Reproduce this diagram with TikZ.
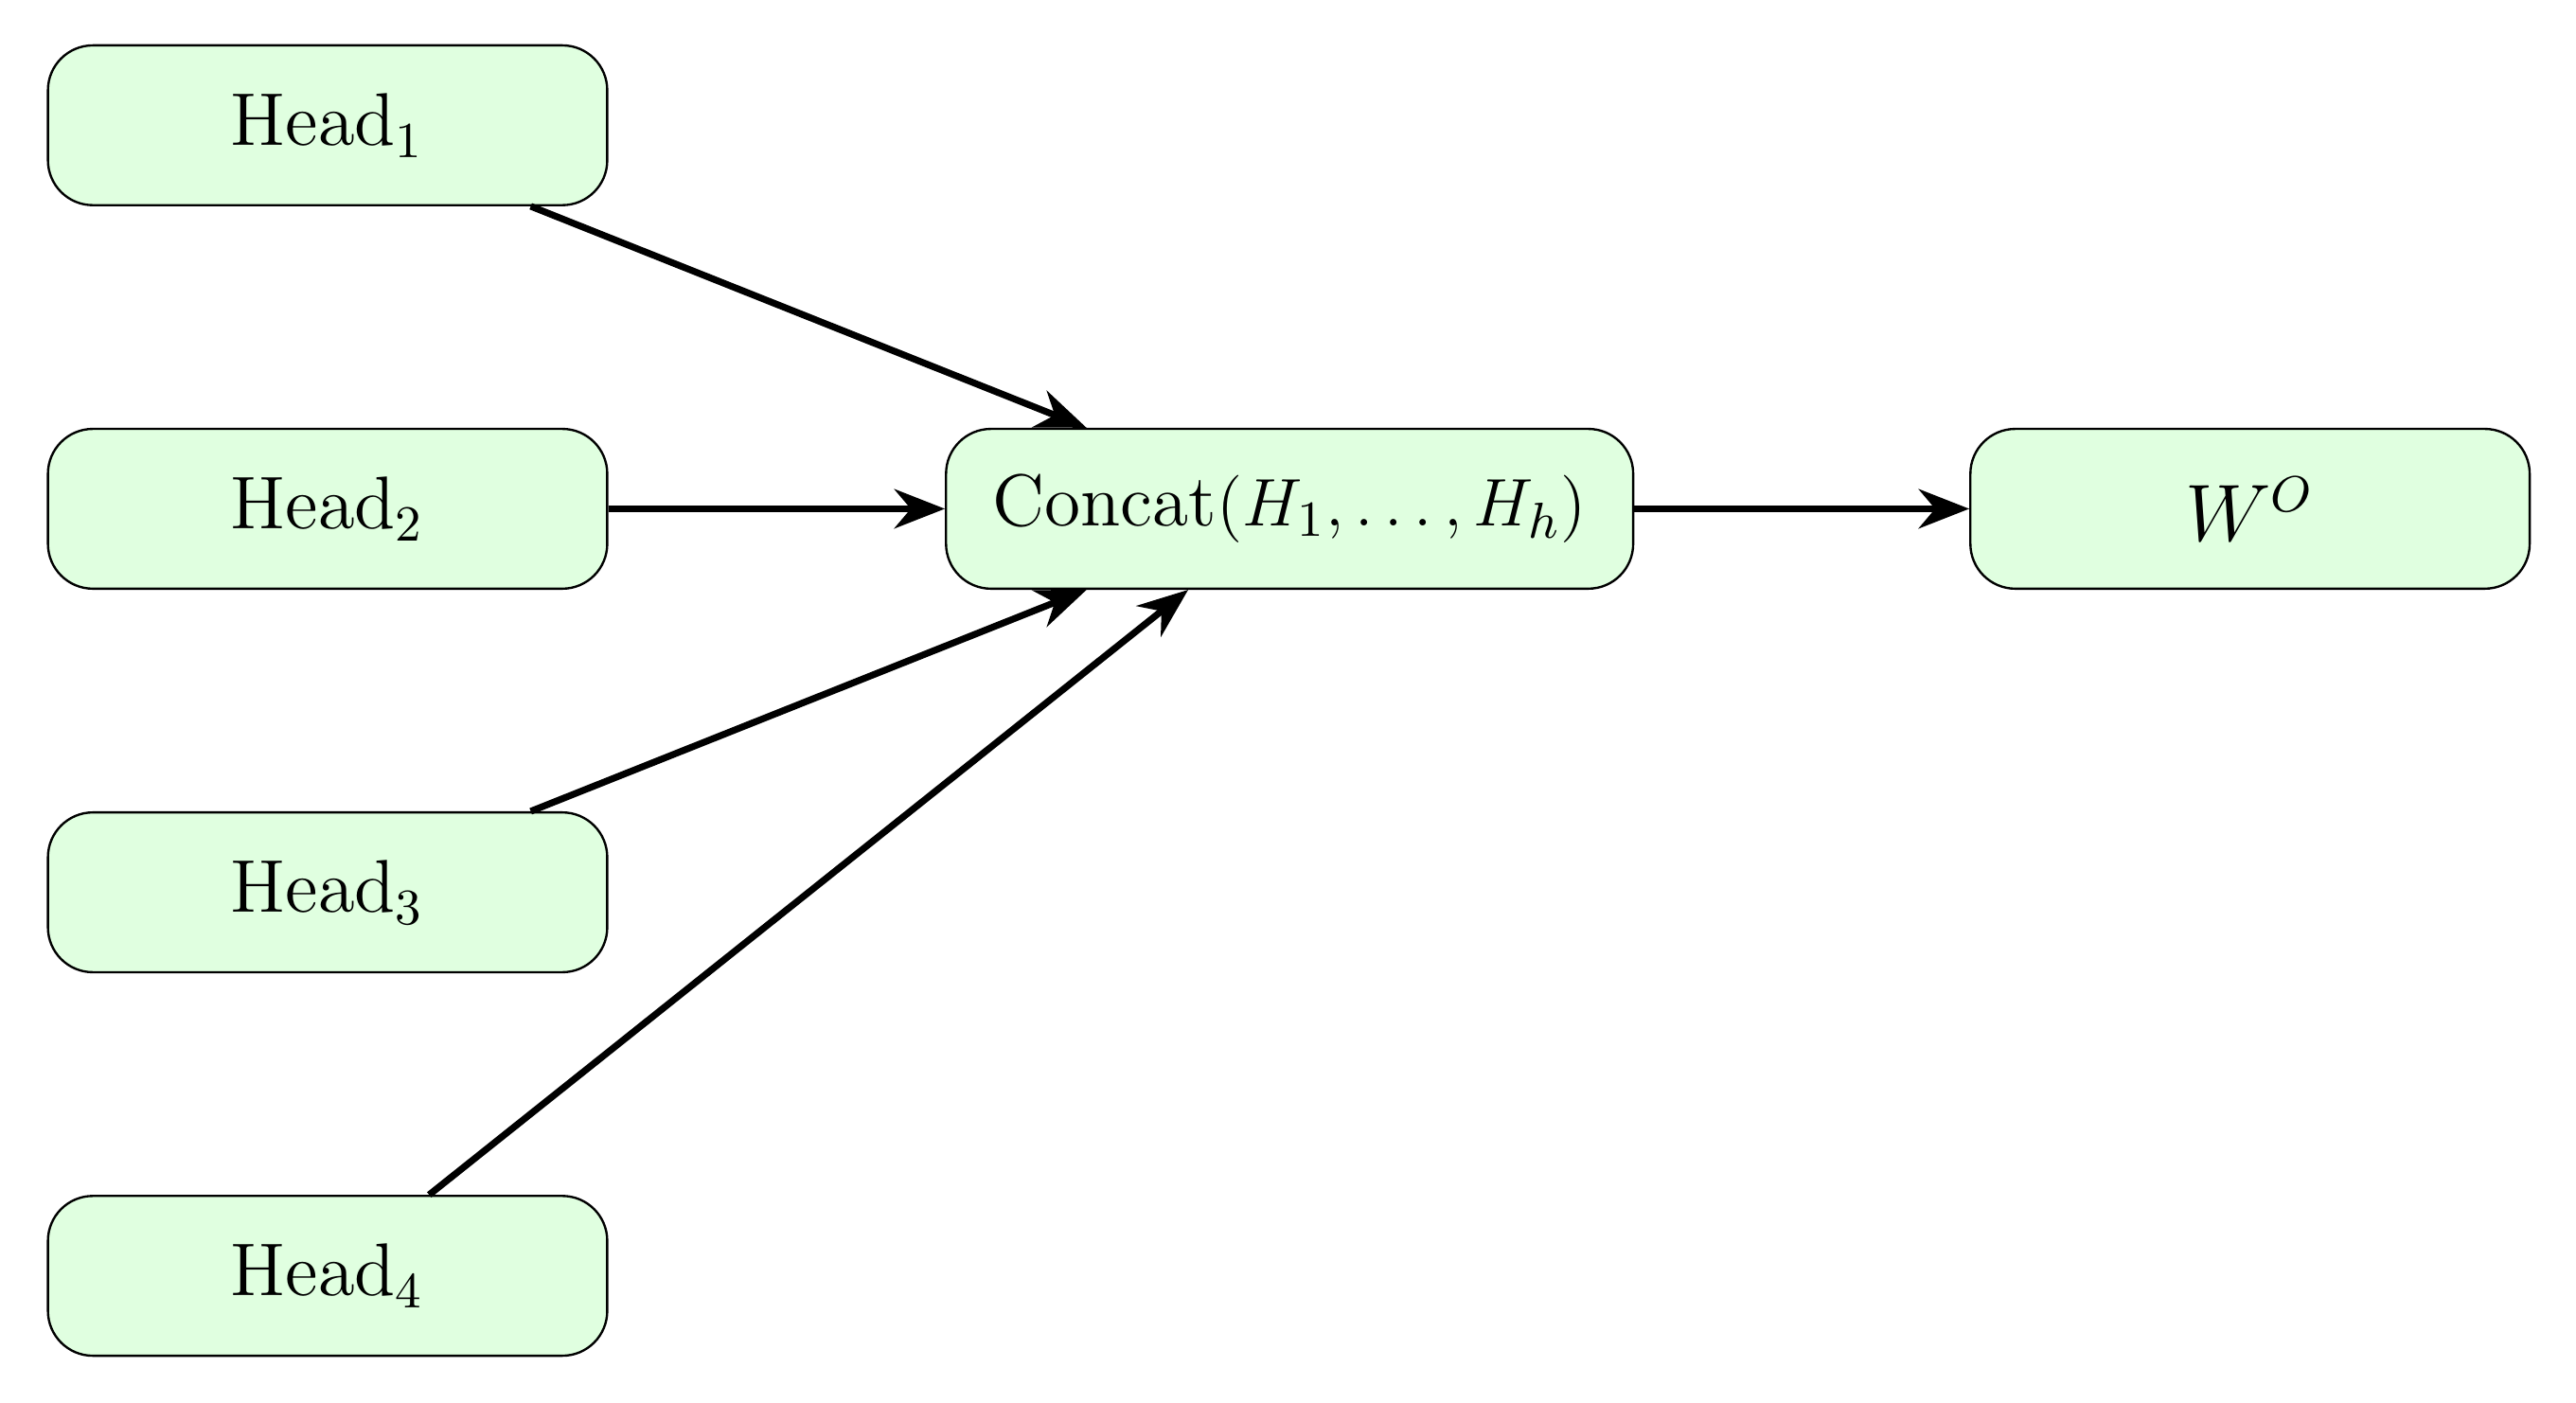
\documentclass[tikz,border=0pt]{standalone}
\usetikzlibrary{arrows.meta}
\begin{document}
\begin{tikzpicture}[
  box/.style={draw, rounded corners=8pt, fill=green!12, minimum width=3.5cm, minimum height=1cm, font=\fontsize{13.3}{16}\selectfont, inner sep=5pt},
  conn/.style={very thick, -{Stealth[length=9pt,width=7pt]}}
]
\useasboundingbox (-2.05,0.784) rectangle (14.07,-7.99);
\node[box] (h1) at (0,0) {Head$_1$};
\node[box] (h2) at (0,-2.4) {Head$_2$};
\node[box] (h3) at (0,-4.8) {Head$_3$};
\node[box] (h4) at (0,-7.2) {Head$_4$};
\node[box, minimum width=4.3cm, inner xsep=0pt, font=\fontsize{13.1}{16}\selectfont] (cc) at (6.02,-2.4) {Concat$(H_1,\ldots,H_h)$};
\node[box] (wo) at (12.03,-2.4) {$W^O$};
\draw[conn] (h1) -- (cc);
\draw[conn] (h2) -- (cc);
\draw[conn] (h3) -- (cc);
\draw[conn] (h4) -- (cc);
\draw[conn] (cc) -- (wo);
\end{tikzpicture}
\end{document}
